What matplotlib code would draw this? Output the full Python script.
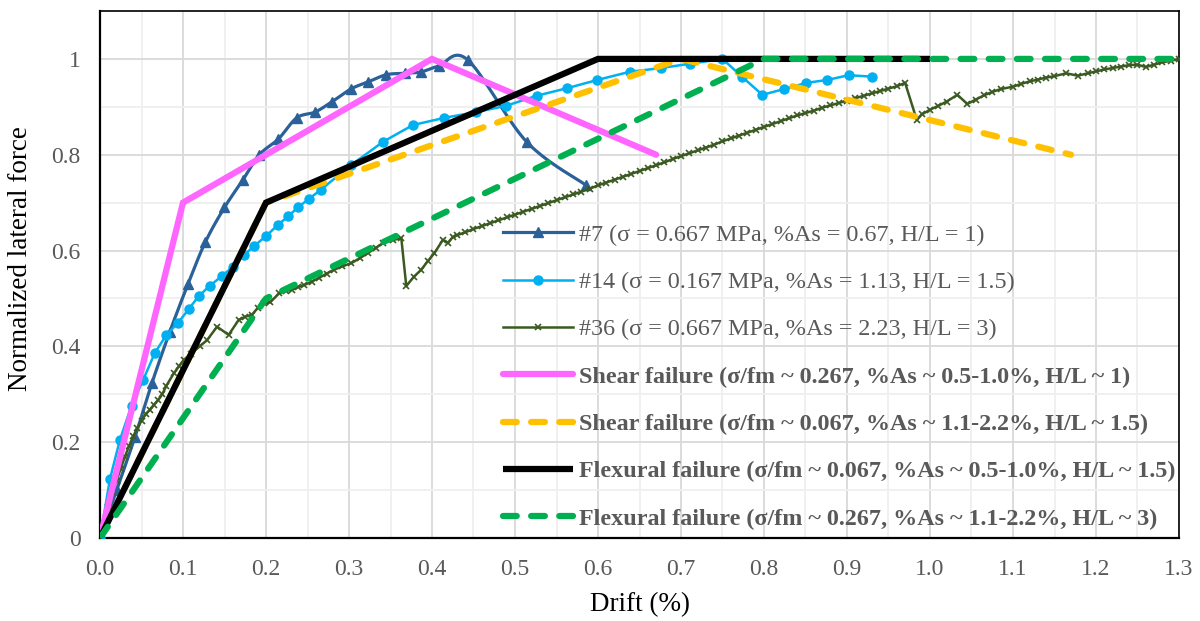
import numpy as np
import matplotlib
matplotlib.use("Agg")
import matplotlib.pyplot as plt
from matplotlib.ticker import MultipleLocator, FixedLocator

# ---------------- data ----------------
drift_7 = [0.0, 0.02, 0.042, 0.0625, 0.084, 0.106, 0.127, 0.15, 0.172, 0.192, 0.215, 0.237,
           0.259, 0.279, 0.302, 0.323, 0.345, 0.367, 0.387, 0.408, 0.443, 0.514, 0.585]
force_7 = [0.0, 0.10, 0.21, 0.323, 0.43, 0.53, 0.618, 0.69, 0.747, 0.80, 0.833, 0.877,
           0.889, 0.91, 0.937, 0.952, 0.967, 0.97, 0.973, 0.985, 0.998, 0.827, 0.737]

drift_14 = [0.0, 0.012, 0.024, 0.038, 0.052, 0.066, 0.08, 0.094, 0.107, 0.119, 0.132, 0.147,
            0.16, 0.174, 0.186, 0.2, 0.214, 0.227, 0.239, 0.252, 0.266, 0.303, 0.341, 0.377,
            0.415, 0.453, 0.489, 0.526, 0.563, 0.599, 0.638, 0.676, 0.711, 0.75, 0.774, 0.798,
            0.824, 0.851, 0.876, 0.902, 0.93]
force_14 = [0.0, 0.123, 0.205, 0.276, 0.33, 0.386, 0.424, 0.449, 0.478, 0.505, 0.526, 0.547,
            0.566, 0.591, 0.61, 0.63, 0.653, 0.672, 0.691, 0.708, 0.727, 0.779, 0.827, 0.862,
            0.877, 0.889, 0.902, 0.923, 0.939, 0.956, 0.973, 0.981, 0.99, 1.0, 0.962, 0.925,
            0.937, 0.95, 0.956, 0.966, 0.963]

drift_36 = [0.000, 0.005, 0.010, 0.015, 0.020, 0.025, 0.030, 0.035, 0.040, 0.045, 0.050, 0.055,
            0.060, 0.065, 0.070, 0.075, 0.080, 0.089, 0.095, 0.101, 0.110, 0.120, 0.129, 0.141,
            0.155, 0.167, 0.175, 0.183, 0.190, 0.198, 0.205, 0.216, 0.224, 0.231, 0.239, 0.246,
            0.255, 0.264, 0.273, 0.282, 0.292, 0.303, 0.313, 0.323, 0.332, 0.341, 0.353, 0.363,
            0.369, 0.378, 0.387, 0.395, 0.403, 0.413, 0.419, 0.425,
            0.43, 0.44, 0.45, 0.46, 0.47, 0.48, 0.49, 0.50, 0.51, 0.52, 0.53, 0.54, 0.55, 0.56,
            0.57, 0.58, 0.59, 0.60, 0.61, 0.62, 0.63, 0.64, 0.65, 0.66, 0.67, 0.68, 0.69, 0.70,
            0.71, 0.72, 0.73, 0.74, 0.75, 0.76, 0.77, 0.78, 0.79, 0.80, 0.81, 0.82, 0.83, 0.84,
            0.85, 0.86, 0.87, 0.88, 0.89, 0.90, 0.91, 0.92, 0.93, 0.94, 0.95, 0.96, 0.97,
            0.984, 0.99, 1.00, 1.01, 1.02, 1.033, 1.045, 1.055, 1.065, 1.075, 1.085, 1.10,
            1.11, 1.12, 1.13, 1.14, 1.15, 1.164, 1.178, 1.19, 1.20, 1.21, 1.22, 1.23, 1.24,
            1.25, 1.26, 1.27, 1.28, 1.29, 1.30]
force_36 = [0.000, 0.030, 0.065, 0.095, 0.120, 0.145, 0.170, 0.192, 0.212, 0.230, 0.245, 0.258,
            0.268, 0.278, 0.288, 0.300, 0.318, 0.344, 0.358, 0.372, 0.385, 0.400, 0.413, 0.441,
            0.424, 0.455, 0.462, 0.466, 0.480, 0.490, 0.492, 0.511, 0.516, 0.518, 0.524, 0.528,
            0.535, 0.543, 0.552, 0.560, 0.567, 0.574, 0.584, 0.595, 0.605, 0.616, 0.622, 0.626,
            0.526, 0.545, 0.560, 0.578, 0.595, 0.622, 0.616, 0.628,
            0.632, 0.638, 0.645, 0.651, 0.657, 0.663, 0.669, 0.675, 0.681, 0.687, 0.693, 0.699,
            0.705, 0.711, 0.717, 0.723, 0.729, 0.736, 0.742, 0.748, 0.754, 0.760, 0.766, 0.772,
            0.778, 0.784, 0.791, 0.797, 0.803, 0.809, 0.815, 0.821, 0.828, 0.834, 0.840, 0.846,
            0.852, 0.858, 0.864, 0.870, 0.876, 0.882, 0.887, 0.892, 0.898, 0.903, 0.908, 0.913,
            0.918, 0.923, 0.928, 0.933, 0.938, 0.943, 0.950,
            0.873, 0.884, 0.894, 0.902, 0.911, 0.925, 0.906, 0.915, 0.924, 0.931, 0.937, 0.942,
            0.948, 0.953, 0.957, 0.961, 0.964, 0.970, 0.965, 0.970, 0.974, 0.978, 0.981, 0.984,
            0.987, 0.988, 0.983, 0.988, 0.993, 0.996, 1.000]

shear1_drift = [0.0, 0.1, 0.4, 0.67]
shear1_force = [0.0, 0.7, 1.0, 0.8]
shear2_drift = [0.0, 0.2, 0.7, 1.17]
shear2_force = [0.0, 0.7, 1.0, 0.8]
flex1_drift = [0.0, 0.2, 0.6, 1.0]
flex1_force = [0.0, 0.7, 1.0, 1.0]
flex2_drift = [0.0, 0.2, 0.8, 1.3]
flex2_force = [0.0, 0.5, 1.0, 1.0]

labels = [
    "#7 (σ = 0.667 MPa, %As = 0.67, H/L = 1)",
    "#14 (σ = 0.167 MPa, %As = 1.13, H/L = 1.5)",
    "#36 (σ = 0.667 MPa, %As = 2.23, H/L = 3)",
    "Shear failure (σ/fm ~ 0.267, %As ~ 0.5-1.0%, H/L ~ 1)",
    "Shear failure (σ/fm ~ 0.067, %As ~ 1.1-2.2%, H/L ~ 1.5)",
    "Flexural failure (σ/fm ~ 0.067, %As ~ 0.5-1.0%, H/L ~ 1.5)",
    "Flexural failure (σ/fm ~ 0.267, %As ~ 1.1-2.2%, H/L ~ 3)",
]
x_ticks = [0.0, 0.1, 0.2, 0.3, 0.4, 0.5, 0.6, 0.7, 0.8, 0.9, 1.0, 1.1, 1.2, 1.3]
y_ticks = [0, 0.2, 0.4, 0.6, 0.8, 1.0]


def smooth(xs, ys, n=20):
    """Catmull-Rom curve through the data points (like Excel's smoothed line)."""
    P = np.column_stack([xs, ys]).astype(float)
    P = np.vstack([P[0], P, P[-1]])
    out = []
    t = np.linspace(0, 1, n, endpoint=False)[:, None]
    for i in range(1, len(P) - 2):
        p0, p1, p2, p3 = P[i - 1], P[i], P[i + 1], P[i + 2]
        seg = 0.5 * ((2 * p1) + (-p0 + p2) * t + (2 * p0 - 5 * p1 + 4 * p2 - p3) * t ** 2
                     + (-p0 + 3 * p1 - 3 * p2 + p3) * t ** 3)
        out.append(seg)
    out.append(P[-2][None, :])
    out = np.vstack(out)
    return out[:, 0], out[:, 1]


plt.rcParams['font.family'] = ['Liberation Serif', 'DejaVu Serif']
fig = plt.figure(figsize=(12, 6.21), dpi=100)
ax = fig.add_axes([100 / 1200, 1 - 538 / 621, 1079 / 1200, 527 / 621])

c7 = '#2B6199'
c14 = '#00B0F0'
c36 = '#3B5A22'

sx, sy = smooth(drift_7, force_7)
ax.plot(sx, sy, color=c7, lw=2.3, zorder=3)
ax.plot(drift_7, force_7, ls='none', marker='^', ms=6.5, color=c7, zorder=3)
h7, = ax.plot([], [], color=c7, lw=2.3, marker='^', ms=6.5)

h14, = ax.plot(drift_14, force_14, color=c14, lw=1.8, marker='o', ms=6.5, zorder=3)
h36, = ax.plot(drift_36, force_36, color=c36, lw=1.8, marker='x', ms=4.5, mew=1.2, zorder=3)

hp, = ax.plot(shear1_drift, shear1_force, color='#FF66FF', lw=4.5, solid_capstyle='round',
              solid_joinstyle='miter', zorder=4)
ho, = ax.plot(shear2_drift, shear2_force, color='#FFC000', lw=4.5, ls=(0, (2.2, 2.3)),
              dash_capstyle='round', zorder=5)
hb, = ax.plot(flex1_drift, flex1_force, color='black', lw=4.5, solid_capstyle='butt',
              solid_joinstyle='miter', zorder=6)
hg, = ax.plot(flex2_drift, flex2_force, color='#00B050', lw=4.5, ls=(0, (2.2, 2.3)),
              dash_capstyle='round', zorder=7)

ax.set_xlim(0, 1.3)
ax.set_ylim(0, 1.1)
ax.xaxis.set_major_locator(FixedLocator(x_ticks))
ax.yaxis.set_major_locator(FixedLocator(y_ticks))
ax.xaxis.set_minor_locator(MultipleLocator(0.05))
ax.yaxis.set_minor_locator(MultipleLocator(0.1))
ax.set_xticklabels([f"{v:.1f}" for v in x_ticks])
ax.set_yticklabels([f"{v:g}" for v in y_ticks])
ax.grid(which='major', color='#D9D9D9', lw=1.3, zorder=0)
ax.grid(which='minor', color='#EFEFEF', lw=1.3, zorder=0)
ax.set_axisbelow(True)
ax.tick_params(which='both', length=0)
ax.tick_params(axis='x', pad=15, labelsize=17, labelcolor='#595959')
ax.tick_params(axis='y', pad=14, labelsize=17, labelcolor='#595959')
for s in ax.spines.values():
    s.set_color('black')
    s.set_linewidth(1.2)
ax.spines['left'].set_linewidth(1.6)
ax.spines['bottom'].set_linewidth(1.6)

ax.set_xlabel("Drift (%)", fontsize=19.5, labelpad=9)
ax.set_ylabel("Normalized lateral force", fontsize=19.5)
ax.yaxis.set_label_coords((33 - 100) / 1079, (538 - 259) / 527)

leg = ax.legend([h7, h14, h36, hp, ho, hb, hg], labels, loc='upper left',
                bbox_to_anchor=(503 / 1200, 1 - 224 / 621), bbox_transform=fig.transFigure,
                frameon=False, fontsize=17.4, handlelength=2.9, handletextpad=0.25,
                labelspacing=1.05, borderaxespad=0, borderpad=0, markerscale=1)
for i, t in enumerate(leg.get_texts()):
    t.set_color('#595959')
    if i >= 3:
        t.set_fontweight('bold')
# single marker in the middle of each legend handle
for line in leg.get_lines():
    line.set_markevery([1])

fig.savefig("out.png", dpi=100)
